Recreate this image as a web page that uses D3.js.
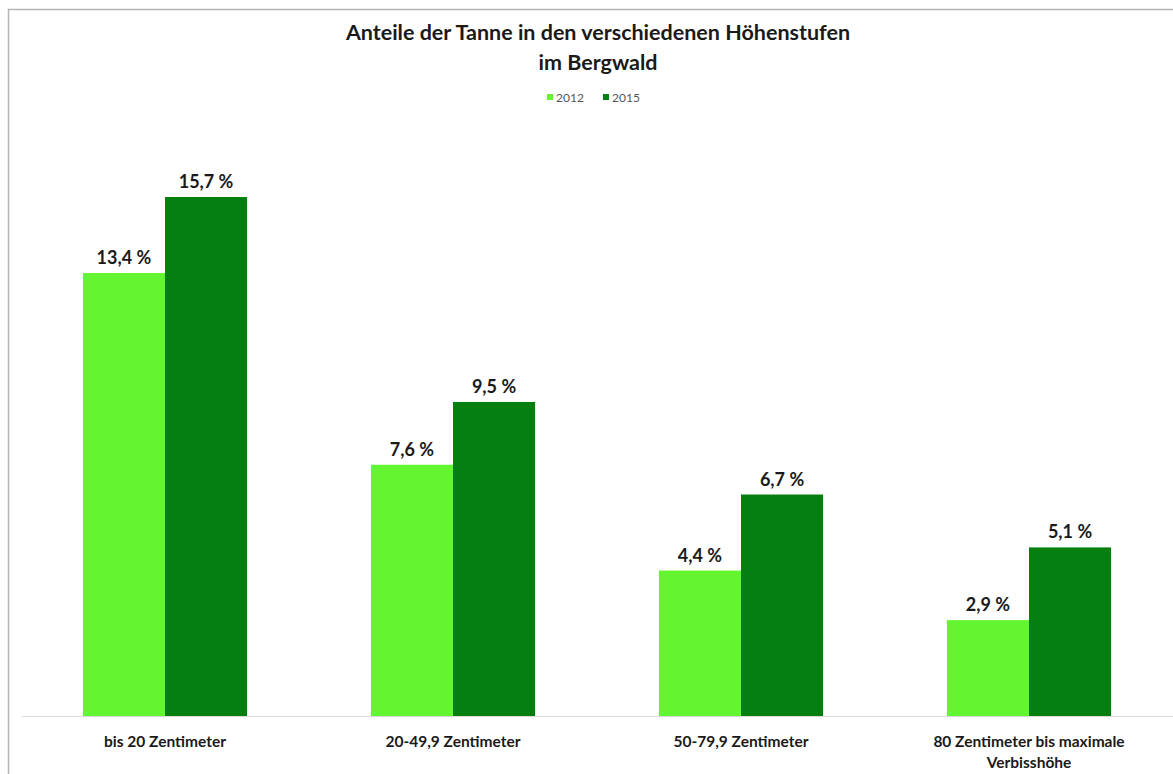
<!DOCTYPE html>
<html><head><meta charset="utf-8">
<script src="https://cdn.jsdelivr.net/npm/d3@7"></script>
<style>body{margin:0;background:#fff}svg{display:block}</style>
</head><body>
<svg id="c" width="1173" height="774"></svg>
<script>
const categories = ["bis 20 Zentimeter","20-49,9 Zentimeter","50-79,9 Zentimeter","80 Zentimeter bis maximale|Verbisshöhe"];
const series = ["2012","2015"];
const values2012 = [13.4, 7.6, 4.4, 2.9];
const values2015 = [15.7, 9.5, 6.7, 5.1];
const colors = ["#63f52f","#058010"];

const svg = d3.select("#c");
const font = "Lato, 'Open Sans', sans-serif";

// frame
svg.append("path").attr("d","M8.5,774 L8.5,9.5 L1173,9.5").attr("fill","none").attr("stroke","#b5b5b5").attr("stroke-width",1.5);

const x0 = d3.scaleBand().domain(categories).range([21,1173]).paddingInner(0.43).paddingOuter(0.215);
const x1 = d3.scaleBand().domain(series).range([0, x0.bandwidth()]);
const y = d3.scaleLinear().domain([0, 15.7]).range([716, 197]);

// baseline
svg.append("line").attr("x1",22).attr("x2",1173).attr("y1",716.5).attr("y2",716.5).attr("stroke","#d9d9d9").attr("stroke-width",1);

const data = categories.map((c,i)=>({c, vals:[values2012[i], values2015[i]]}));
const g = svg.selectAll("g.grp").data(data).join("g").attr("transform",d=>`translate(${x0(d.c)},0)`);
g.selectAll("rect").data(d=>d.vals.map((v,j)=>({v,s:series[j],j}))).join("rect")
  .attr("x",d=>x1(d.s)).attr("width",x1.bandwidth())
  .attr("y",d=>y(d.v)).attr("height",d=>y(0)-y(d.v)).attr("fill",d=>colors[d.j]);
g.selectAll("text.lbl").data(d=>d.vals.map((v,j)=>({v,s:series[j],j}))).join("text")
  .attr("class","lbl").attr("x",d=>x1(d.s)+x1.bandwidth()/2).attr("y",d=>y(d.v)-9)
  .attr("text-anchor","middle").attr("font-family",font).attr("font-weight","bold").attr("font-size",18).attr("fill","#1a1a1a")
  .text(d=>d.v.toFixed(1).replace(".",",")+" %");

// category labels
const xa = svg.append("g");
categories.forEach(c=>{
  const lines = c.split("|");
  const t = xa.append("text").attr("text-anchor","middle").attr("font-family",font).attr("font-weight","bold").attr("font-size",15.5).attr("fill","#1a1a1a");
  lines.forEach((l,k)=>t.append("tspan").attr("x",x0(c)+x0.bandwidth()/2).attr("y",747+k*21).text(l));
});

// title
svg.append("text").attr("x",598).attr("y",40).attr("text-anchor","middle").attr("font-family",font).attr("font-weight","bold").attr("font-size",21.5).attr("fill","#1a1a1a").text("Anteile der Tanne in den verschiedenen Höhenstufen");
svg.append("text").attr("x",598).attr("y",70).attr("text-anchor","middle").attr("font-family",font).attr("font-weight","bold").attr("font-size",21.5).attr("fill","#1a1a1a").text("im Bergwald");

// legend
const leg = svg.append("g");
const legX = [547, 603];
series.forEach((s,i)=>{
  leg.append("rect").attr("x",legX[i]).attr("y",94).attr("width",6).attr("height",6).attr("fill",colors[i]);
  leg.append("text").attr("x",legX[i]+9).attr("y",101.5).attr("font-family",font).attr("font-size",12).attr("fill","#555").text(s);
});
</script>
</body></html>
